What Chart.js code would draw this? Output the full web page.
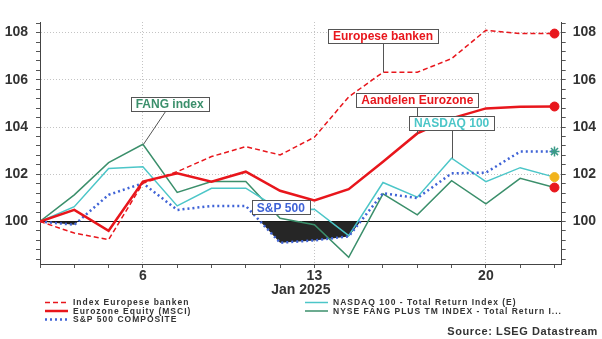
<!DOCTYPE html>
<html>
<head>
<meta charset="utf-8">
<script src="https://cdn.jsdelivr.net/npm/chart.js"></script>
<style>
  html, body { margin: 0; padding: 0; background: #fff; }
</style>
</head>
<body>
<canvas id="chartId" width="602" height="339"></canvas>
<script>
// trading days, Jan 2025
const days = [1, 2, 3, 6, 7, 8, 9, 10, 13, 14, 15, 16, 17, 20, 21, 22];
const xLabelDays = [6, 13, 20];
const yLabels = [100, 102, 104, 106, 108];

// values (index, start = 100)
const banken   = [100, 99.51, 99.23, 101.62, 102.11, 102.75, 103.17, 102.82, 103.57, 105.28, 106.32, 106.32, 106.9, 108.1, 107.96, 107.96];
const eurozone = [100, 100.49, 99.61, 101.69, 102.04, 101.69, 102.11, 101.3, 100.89, 101.37, 102.53, 103.73, 104.37, 104.79, 104.86, 104.87];
const sp500    = [100, 99.86, 101.13, 101.62, 100.49, 100.66, 100.66, 99.1, 99.2, 99.37, 101.2, 100.99, 102.04, 102.07, 102.96, 102.96];
const nasdaq   = [100, 100.63, 102.25, 102.32, 100.66, 101.41, 101.41, 100.5, 100.52, 99.4, 101.65, 101.03, 102.68, 101.69, 102.28, 101.88];
const fang     = [100, 101.13, 102.49, 103.27, 101.23, 101.69, 101.69, 100.14, 99.86, 98.48, 101.17, 100.28, 101.73, 100.75, 101.83, 101.44];

const family = '"Liberation Sans", Arial, sans-serif';
const red = '#e8161c';
const blue = '#3f63d6';
const cyan = '#4cc6c8';
const green = '#3b8f6b';
const gold = '#f2b31b';
const teal = '#3a9a88';

const pts = arr => arr.map((v, i) => ({ x: i, y: v }));
const last = days.length - 1;

function endMark(style, color, r) {
    return {
        pointStyle: style,
        pointRadius: ctx => ctx.dataIndex === last ? r : 0,
        pointHoverRadius: 0,
        pointBackgroundColor: color,
        pointBorderColor: color,
        pointBorderWidth: style === 'star' ? 1.5 : 1
    };
}

// label boxes: anchor point (series, index) and box centre (index, value)
const notes = [
    { text: 'FANG index', color: green, series: fang, at: 3, bx: 3.78, by: 104.97, line: true },
    { text: 'Europese banken', color: red, series: banken, at: 10, bx: 10, by: 107.85, line: true },
    { text: 'Aandelen Eurozone', color: red, series: eurozone, at: 11, bx: 11, by: 105.16, line: true },
    { text: 'NASDAQ 100', color: cyan, series: nasdaq, at: 12, bx: 12, by: 104.19, line: true },
    { text: 'S&P 500', color: blue, series: sp500, at: 7, bx: 7.02, by: 100.6, line: false }
];

const isMajor = v => yLabels.some(t => Math.abs(t - v) < 1e-6);
const is100 = v => Math.abs(v - 100) < 1e-6;

const notesPlugin = {
    id: 'notes',
    afterDatasetsDraw(chart) {
        const { ctx, scales: { x, y } } = chart;
        ctx.save();
        ctx.font = 'bold 12px ' + family;
        notes.forEach(n => {
            const ax = x.getPixelForValue(n.at), ay = y.getPixelForValue(n.series[n.at]);
            const cx = x.getPixelForValue(n.bx), cy = y.getPixelForValue(n.by);
            const w = Math.round(ctx.measureText(n.text).width + 10), h = 14;
            ctx.strokeStyle = '#555';
            ctx.lineWidth = 1;
            if (n.line) {
                ctx.beginPath();
                ctx.moveTo(Math.round(ax) + 0.5, ay);
                ctx.lineTo(Math.round(cx) + 0.5, cy);
                ctx.stroke();
            }
            const bx = Math.round(cx - w / 2) + 0.5, by = Math.round(cy - h / 2) + 0.5;
            ctx.fillStyle = '#fff';
            ctx.fillRect(bx, by, w, h);
            ctx.strokeRect(bx, by, w, h);
            ctx.fillStyle = n.color;
            ctx.textAlign = 'center';
            ctx.textBaseline = 'middle';
            ctx.fillText(n.text, cx, cy + 1);
        });
        ctx.restore();
    }
};

// two-column legend + source line under the plot
const legendPos = [[45, 302.5], [45, 311], [45, 319.5], [305, 302.5], [305, 311]];
const legendPlugin = {
    id: 'legendBox',
    afterDraw(chart) {
        const { ctx } = chart;
        ctx.save();
        chart.data.datasets.forEach((ds, i) => {
            const [lx, ly] = legendPos[i];
            ctx.strokeStyle = ds.borderColor;
            ctx.lineWidth = ds.borderWidth;
            ctx.setLineDash(ds.borderDash || []);
            ctx.beginPath();
            ctx.moveTo(lx, ly);
            ctx.lineTo(lx + 23, ly);
            ctx.stroke();
            ctx.setLineDash([]);
            ctx.fillStyle = '#333';
            ctx.font = 'bold 8.5px ' + family;
            ctx.letterSpacing = '1px';
            ctx.textAlign = 'left';
            ctx.textBaseline = 'middle';
            ctx.fillText(ds.label, lx + 28, ly + 0.5);
        });
        ctx.font = 'bold 11px ' + family;
        ctx.letterSpacing = '0.6px';
        ctx.textAlign = 'right';
        ctx.fillStyle = '#333';
        ctx.fillText('Source: LSEG Datastream', 598, 332);
        ctx.restore();
    }
};

const tickFont = { family: family, size: 14, weight: 'bold' };

function yAxis(pos, width, pad) {
    return {
        position: pos,
        min: 98.2,
        max: 108.45,
        afterFit: s => { s.width = width; },
        ticks: {
            stepSize: 0.4,
            includeBounds: false,
            autoSkip: false,
            padding: pad,
            font: tickFont,
            color: '#333',
            callback: v => isMajor(v) ? String(Math.round(v)) : ''
        },
        grid: {
            drawOnChartArea: pos === 'left',
            color: ctx => {
                const v = ctx.tick ? ctx.tick.value : null;
                if (v === null) return 'rgba(0,0,0,0)';
                if (is100(v)) return '#111';
                return isMajor(v) ? '#c4c4c4' : 'rgba(0,0,0,0)';
            },
            tickColor: '#555',
            tickLength: 4
        },
        border: {
            color: '#444',
            dash: ctx => (ctx.tick && is100(ctx.tick.value)) ? [] : [1, 2]
        }
    };
}

new Chart(document.getElementById('chartId'), {
    type: 'line',
    data: {
        datasets: [
            { label: 'Index Europese banken', data: pts(banken), borderColor: red, borderWidth: 1.5, borderDash: [5, 3], ...endMark('circle', red, 4.5) },
            { label: 'Eurozone Equity (MSCI)', data: pts(eurozone), borderColor: red, borderWidth: 2.5, ...endMark('circle', red, 4.5) },
            { label: 'S&P 500 COMPOSITE', data: pts(sp500), borderColor: blue, borderWidth: 2.5, borderDash: [2, 3],
              fill: { target: { value: 100 }, above: 'rgba(0,0,0,0)', below: '#262626' }, ...endMark('star', teal, 5) },
            { label: 'NASDAQ 100 - Total Return Index (E)', data: pts(nasdaq), borderColor: cyan, borderWidth: 1.5, ...endMark('circle', gold, 4.5) },
            { label: 'NYSE FANG PLUS TM INDEX - Total Return I...', data: pts(fang), borderColor: green, borderWidth: 1.5, ...endMark('circle', red, 4.5) }
        ]
    },
    options: {
        responsive: false,
        animation: false,
        layout: { padding: { top: 22, bottom: 36.6, left: 0, right: 0 } },
        plugins: {
            legend: { display: false },
            tooltip: { enabled: false },
            filler: { drawTime: 'beforeDatasetsDraw' }
        },
        scales: {
            x: {
                type: 'linear',
                min: 0,
                max: 15.21,
                afterFit: s => { s.height = 38.4; },
                ticks: {
                    stepSize: 1,
                    includeBounds: false,
                    autoSkip: false,
                    maxRotation: 0,
                    padding: 0,
                    font: tickFont,
                    color: '#333',
                    callback: v => xLabelDays.includes(days[v]) ? String(days[v]) : ''
                },
                grid: {
                    color: ctx => (ctx.tick && xLabelDays.includes(days[ctx.tick.value])) ? '#c4c4c4' : 'rgba(0,0,0,0)',
                    tickColor: '#555',
                    tickLength: 4
                },
                border: { color: '#444', dash: [1, 2] },
                title: {
                    display: true,
                    text: 'Jan 2025',
                    font: tickFont,
                    color: '#333',
                    padding: { top: 0, bottom: 4 }
                }
            },
            y: yAxis('left', 40, 8),
            y2: yAxis('right', 40.3, 7)
        }
    },
    plugins: [notesPlugin, legendPlugin]
});
</script>
</body>
</html>
